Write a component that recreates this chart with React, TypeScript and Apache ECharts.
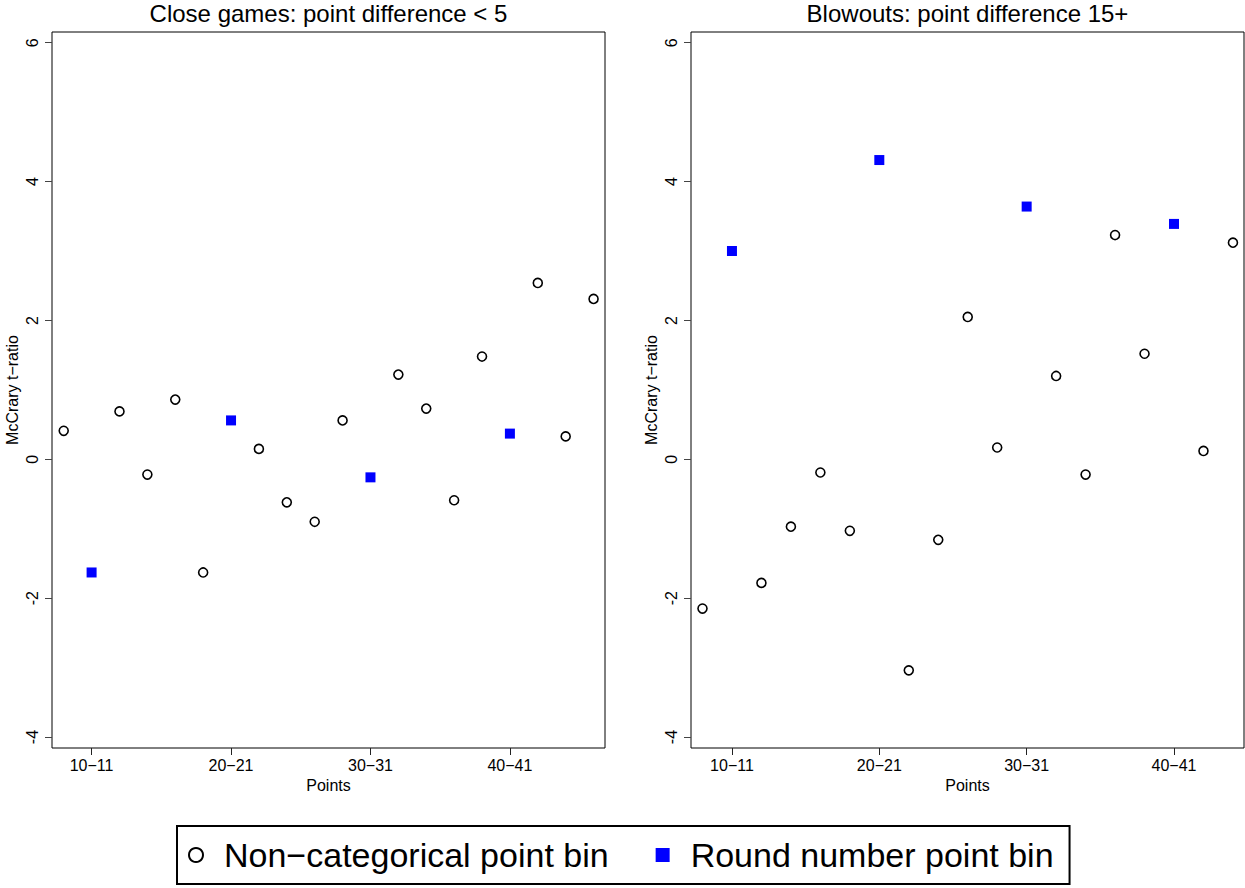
import { useEffect, useRef } from "react";
import * as echarts from "echarts";

// Point bins (lower bound of each two-point bin) and McCrary t-ratios
const closeOtherX = [8, 12, 14, 16, 18, 22, 24, 26, 28, 32, 34, 36, 38, 42, 44, 46];
const closeOtherY = [0.41, 0.69, -0.22, 0.86, -1.63, 0.15, -0.62, -0.9, 0.56, 1.22, 0.73, -0.59, 1.48, 2.54, 0.33, 2.31];
const closeRoundX = [10, 20, 30, 40];
const closeRoundY = [-1.63, 0.56, -0.26, 0.37];

const blowOtherX = [8, 12, 14, 16, 18, 22, 24, 26, 28, 32, 34, 36, 38, 42, 44];
const blowOtherY = [-2.15, -1.78, -0.97, -0.19, -1.03, -3.04, -1.16, 2.05, 0.17, 1.2, -0.22, 3.23, 1.52, 0.12, 3.12];
const blowRoundX = [10, 20, 30, 40];
const blowRoundY = [3.0, 4.31, 3.64, 3.39];

const xTickValues = [10, 20, 30, 40];
const xTickLabels = ["10\u221211", "20\u221221", "30\u221231", "40\u221241"];
const yTickValues = [-4, -2, 0, 2, 4, 6];

const panelTitles = ["Close games: point difference < 5", "Blowouts: point difference 15+"];
const OTHER = "Non\u2212categorical point bin";
const ROUND = "Round number point bin";

const FONT = "'Liberation Sans', Arial, Helvetica, sans-serif";

const zip = (xs: number[], ys: number[]) => xs.map((x, i) => [x, ys[i]]);

export default function App() {
  const ref = useRef<HTMLDivElement>(null);

  useEffect(() => {
    if (!ref.current) return;
    const chart = echarts.init(ref.current, undefined, { renderer: "svg" });

    const grids = [
      { left: 52, top: 32, width: 553, height: 716 },
      { left: 691, top: 32, width: 553, height: 716 },
    ];
    const xRanges = [
      [7.16, 46.82],
      [7.22, 44.75],
    ];

    const xAxis = grids.map((_, i) => ({
      type: "value",
      gridIndex: i,
      min: xRanges[i][0],
      max: xRanges[i][1],
      splitLine: { show: false },
      axisLine: { show: false, onZero: false },
      axisTick: {
        show: true,
        customValues: xTickValues,
        length: 7,
        lineStyle: { color: "#222", width: 1 },
      },
      axisLabel: {
        customValues: xTickValues,
        formatter: (v: number) => xTickLabels[xTickValues.indexOf(v)] ?? "",
        fontSize: 16,
        color: "#000",
        margin: 9,
        fontFamily: FONT,
      },
      name: "Points",
      nameLocation: "middle",
      nameGap: 27,
      nameTextStyle: { fontSize: 16, color: "#000", fontFamily: FONT },
    }));

    const yAxis = grids.map((_, i) => ({
      type: "value",
      gridIndex: i,
      min: -4.158,
      max: 6.154,
      splitLine: { show: false },
      axisLine: { show: false, onZero: false },
      axisTick: {
        show: true,
        customValues: yTickValues,
        length: 7,
        lineStyle: { color: "#444", width: 1 },
      },
      axisLabel: {
        customValues: yTickValues,
        rotate: 90,
        fontSize: 16,
        color: "#000",
        margin: 12,
        fontFamily: FONT,
      },
      name: "McCrary t\u2212ratio",
      nameLocation: "middle",
      nameGap: 32,
      nameTextStyle: { fontSize: 16, color: "#000", fontFamily: FONT },
    }));

    const circleStyle = {
      color: "rgba(255,255,255,0)",
      borderColor: "#000",
      borderWidth: 1.6,
      opacity: 1,
    };
    const squareStyle = { color: "#0000ff", opacity: 1 };

    const series = [
      { name: OTHER, data: zip(closeOtherX, closeOtherY), idx: 0, round: false },
      { name: ROUND, data: zip(closeRoundX, closeRoundY), idx: 0, round: true },
      { name: OTHER, data: zip(blowOtherX, blowOtherY), idx: 1, round: false },
      { name: ROUND, data: zip(blowRoundX, blowRoundY), idx: 1, round: true },
    ].map((s) => ({
      type: "scatter",
      name: s.name,
      xAxisIndex: s.idx,
      yAxisIndex: s.idx,
      data: s.data,
      symbol: s.round ? "rect" : "circle",
      symbolSize: s.round ? 10 : 9,
      itemStyle: s.round ? squareStyle : circleStyle,
      emphasis: { disabled: true },
    }));

    chart.setOption({
      animation: false,
      textStyle: { fontFamily: FONT },
      title: panelTitles.map((t, i) => ({
        text: t,
        left: grids[i].left + grids[i].width / 2,
        top: 1,
        padding: 0,
        textAlign: "center",
        textStyle: { fontSize: 24, fontWeight: "normal", color: "#000", fontFamily: FONT },
      })),
      grid: grids.map((g) => ({
        ...g,
        show: true,
        borderColor: "#000",
        borderWidth: 1,
        backgroundColor: "transparent",
      })),
      xAxis,
      yAxis,
      legend: {
        left: 177,
        top: 826,
        padding: [12, 16, 12, 11],
        borderColor: "#000",
        borderWidth: 2,
        itemWidth: 14,
        itemHeight: 14,
        itemGap: 47,
        selectedMode: false,
        textStyle: { fontSize: 34, color: "#000", fontFamily: FONT, padding: [0, 0, 0, 16] },
        data: [
          {
            name: OTHER,
            icon: "circle",
            itemStyle: { color: "rgba(255,255,255,0)", borderColor: "#000", borderWidth: 2, opacity: 1 },
          },
          { name: ROUND, icon: "rect", itemStyle: { color: "#0000ff", borderWidth: 0, opacity: 1 } },
        ],
      },
      series,
    });

    return () => chart.dispose();
  }, []);

  return (
    <div
      ref={ref}
      style={{ position: "fixed", left: 0, top: 0, width: 1245, height: 888, background: "#fff" }}
    />
  );
}
